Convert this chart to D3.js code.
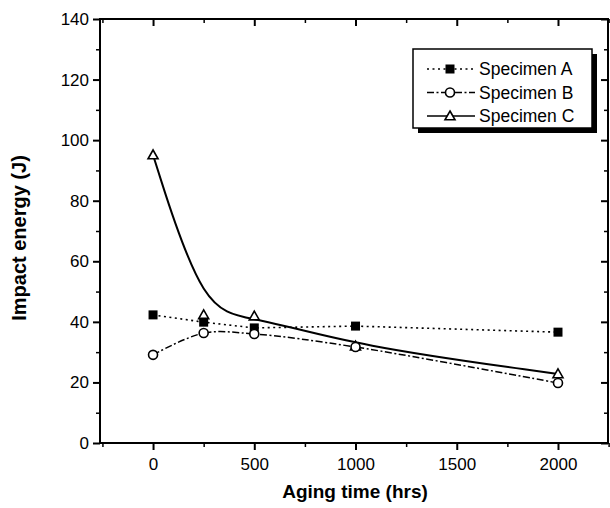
<!DOCTYPE html>
<html><head><meta charset="utf-8">
<script src="https://cdn.jsdelivr.net/npm/d3@7"></script>
<style>body{margin:0;background:#fff}svg{display:block}</style>
</head><body>
<svg id="c" width="610" height="508"></svg>
<script>
const hours = [0, 250, 500, 1000, 2000];
const specA = [42.3, 39.9, 38.0, 38.6, 36.6];
const specB = [29.1, 36.3, 36.0, 31.7, 19.8];
const specC = [95.1, 42.3, 41.9, 32.0, 22.8];
const seriesNames = ["Specimen A", "Specimen B", "Specimen C"];
const xTicks = [0, 500, 1000, 1500, 2000];
const xMinor = [-250, 250, 750, 1250, 1750, 2250];
const yTicks = [0, 20, 40, 60, 80, 100, 120, 140];
const yMinor = [10, 30, 50, 70, 90, 110, 130];

const svg = d3.select("#c");
const L = 100, R = 608, T = 19, B = 443;
const x = d3.scaleLinear().domain([-262, 2247]).range([L, R]);
const y = d3.scaleLinear().domain([0, 140]).range([B, T]);
const font = "'Liberation Sans', Arial, Helvetica, sans-serif";

const g = svg.append("g");

// frame
g.append("rect").attr("x", L).attr("y", T).attr("width", R - L).attr("height", B - T)
  .attr("fill", "none").attr("stroke", "#000").attr("stroke-width", 2);

// bottom axis
const xAxis = d3.axisBottom(x).tickValues(xTicks).tickSize(7).tickPadding(8).tickFormat(d3.format("d"));
const gx = g.append("g").attr("transform", `translate(0,${B})`).call(xAxis);
gx.select(".domain").remove();
gx.selectAll("line").attr("stroke-width", 2);
gx.selectAll("text").attr("font-family", font).attr("font-size", 17).attr("fill", "#000");
const gxm = g.append("g").attr("transform", `translate(0,${B})`)
  .call(d3.axisBottom(x).tickValues(xMinor).tickSize(4).tickFormat(""));
gxm.select(".domain").remove();
gxm.selectAll("line").attr("stroke-width", 1.5);

// top axis (inward)
const gt = g.append("g").attr("transform", `translate(0,${T})`)
  .call(d3.axisBottom(x).tickValues(xTicks).tickSize(7).tickFormat(""));
gt.select(".domain").remove(); gt.selectAll("line").attr("stroke-width", 2);
const gtm = g.append("g").attr("transform", `translate(0,${T})`)
  .call(d3.axisBottom(x).tickValues(xMinor).tickSize(4).tickFormat(""));
gtm.select(".domain").remove(); gtm.selectAll("line").attr("stroke-width", 1.5);

// left axis
const gy = g.append("g").attr("transform", `translate(${L},0)`)
  .call(d3.axisLeft(y).tickValues(yTicks).tickSize(7).tickPadding(4));
gy.select(".domain").remove();
gy.selectAll("line").attr("stroke-width", 2);
gy.selectAll("text").attr("font-family", font).attr("font-size", 17).attr("fill", "#000");
const gym = g.append("g").attr("transform", `translate(${L},0)`)
  .call(d3.axisLeft(y).tickValues(yMinor).tickSize(4).tickFormat(""));
gym.select(".domain").remove(); gym.selectAll("line").attr("stroke-width", 1.5);

// right axis (inward)
const gr = g.append("g").attr("transform", `translate(${R},0)`)
  .call(d3.axisRight(y).tickValues(yTicks).tickSize(-7).tickFormat(""));
gr.select(".domain").remove(); gr.selectAll("line").attr("stroke-width", 2);
const grm = g.append("g").attr("transform", `translate(${R},0)`)
  .call(d3.axisRight(y).tickValues(yMinor).tickSize(-4).tickFormat(""));
grm.select(".domain").remove(); grm.selectAll("line").attr("stroke-width", 1.5);

// axis titles
g.append("text").attr("x", 355).attr("y", 498).attr("text-anchor", "middle")
  .attr("font-family", font).attr("font-weight", "bold").attr("font-size", 19)
  .text("Aging time (hrs)");
g.append("text").attr("transform", "translate(26,238) rotate(-90)").attr("text-anchor", "middle")
  .attr("font-family", font).attr("font-weight", "bold").attr("font-size", 20)
  .text("Impact energy (J)");

// series
const styles = [
  {vals: specA, curve: d3.curveLinear, dash: "2,3.5", w: 1.6, marker: "square"},
  {vals: specB, curve: d3.curveCatmullRom, dash: "7,2.5,2,2.5", w: 1.5, marker: "circle"},
  {vals: specC, curve: d3.curveBasis, dash: null, w: 2, marker: "triangle"}
];

function drawMarker(sel, type, cx, cy) {
  if (type === "square") {
    sel.append("rect").attr("x", cx - 4.5).attr("y", cy - 4.5).attr("width", 9).attr("height", 9).attr("fill", "#000");
  } else if (type === "circle") {
    sel.append("circle").attr("cx", cx).attr("cy", cy).attr("r", 4.5).attr("fill", "#fff").attr("stroke", "#000").attr("stroke-width", 1.6);
  } else {
    const s = 5;
    sel.append("path").attr("d", `M${cx},${cy - s}L${cx + s},${cy + s * 0.75}L${cx - s},${cy + s * 0.75}Z`)
      .attr("fill", "#fff").attr("stroke", "#000").attr("stroke-width", 1.6);
  }
}

styles.forEach(st => {
  const line = d3.line().x((d, i) => x(hours[i])).y(d => y(d)).curve(st.curve);
  g.append("path").attr("d", line(st.vals)).attr("fill", "none").attr("stroke", "#000")
    .attr("stroke-width", st.w).attr("stroke-dasharray", st.dash);
});
// markers drawn in order C, A, B so circles sit on top
[2, 0, 1].forEach(k => {
  const st = styles[k];
  st.vals.forEach((v, i) => drawMarker(g, st.marker, x(hours[i]), y(v)));
});

// legend
const lg = g.append("g");
lg.append("rect").attr("x", 418).attr("y", 54).attr("width", 179).attr("height", 79).attr("fill", "#000");
lg.append("rect").attr("x", 413).attr("y", 49).attr("width", 179).attr("height", 79)
  .attr("fill", "#fff").attr("stroke", "#000").attr("stroke-width", 1.5);
styles.forEach((st, k) => {
  const yy = 69 + k * 23.5;
  lg.append("line").attr("x1", 427).attr("x2", 475).attr("y1", yy).attr("y2", yy)
    .attr("stroke", "#000").attr("stroke-width", st.w === 2 ? 1.6 : 1.4).attr("stroke-dasharray", st.dash);
  drawMarker(lg, st.marker, 450, yy);
  lg.append("text").attr("x", 479).attr("y", yy + 6).attr("font-family", font).attr("font-size", 17.5)
    .text(seriesNames[k]);
});
</script>
</body></html>
